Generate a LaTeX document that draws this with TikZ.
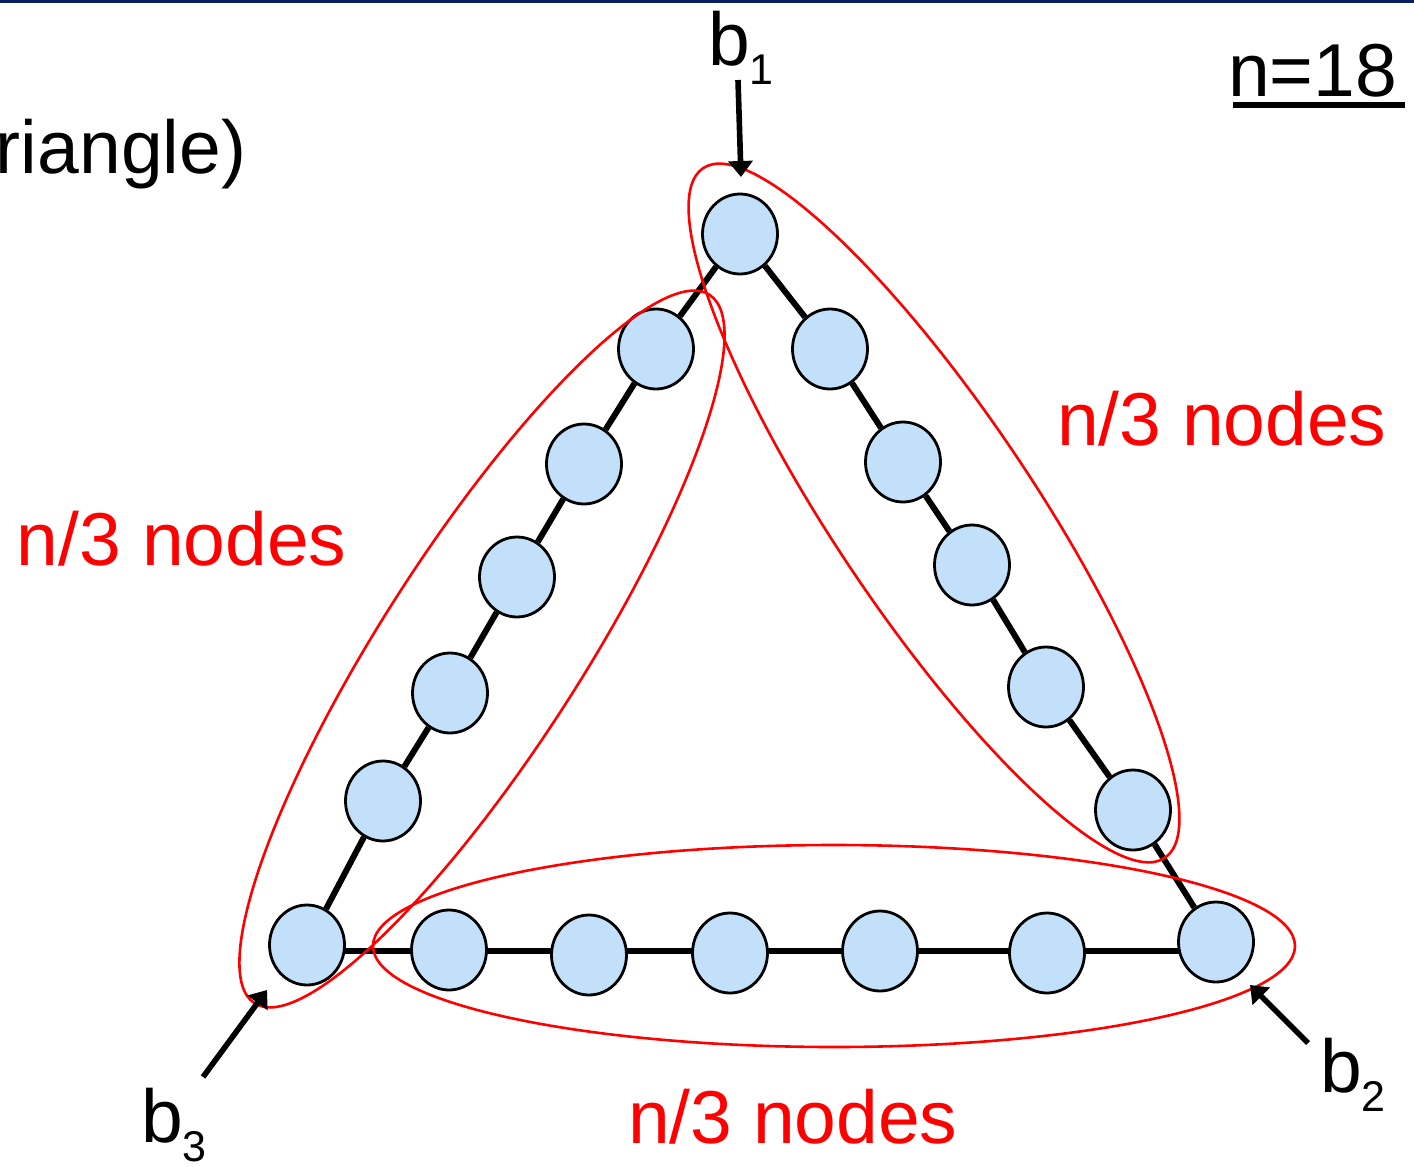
\documentclass[tikz,border=0pt]{standalone}
\usepackage{fontspec}
\setmainfont{Liberation Sans}
\usetikzlibrary{shapes.geometric,arrows.meta,calc,backgrounds}
\definecolor{nodefill}{RGB}{194,224,250}
\definecolor{navy}{RGB}{8,30,94}
\newcommand{\bsub}[1]{\raisebox{-9.5pt}{\fontsize{21.5}{22}\selectfont #1}}
\begin{document}
\begin{tikzpicture}[x=0.5pt,y=-0.5pt,
  vtx/.style={ellipse,draw=black,line width=1.4pt,fill=nodefill,minimum width=37.5pt,minimum height=40pt,inner sep=0pt},
  edge/.style={line width=3pt},
  ring/.style={draw=red,line width=1.3pt},
  ptr/.style={line width=2.8pt,-{Triangle[width=12pt,length=8pt]}},
  lbl/.style={font=\fontsize{37.5}{40}\selectfont,inner sep=0pt,outer sep=0pt,anchor=base west},
  redlbl/.style={lbl,text=red}]
\useasboundingbox (0,0) rectangle (1414,1167);
\fill[navy] (0,0) rectangle (1414,3);

% vertices
\node[vtx] (t)  at (740,234) {};
\node[vtx] (L1) at (656,349) {};
\node[vtx] (L2) at (584,464) {};
\node[vtx] (L3) at (517,577) {};
\node[vtx] (L4) at (450,693) {};
\node[vtx] (L5) at (383,801) {};
\node[vtx] (c3) at (307,945) {};
\node[vtx] (R1) at (830,349) {};
\node[vtx] (R2) at (903,462) {};
\node[vtx] (R3) at (972,565) {};
\node[vtx] (R4) at (1046,687) {};
\node[vtx] (R5) at (1133,810) {};
\node[vtx] (c2) at (1216,942) {};
\node[vtx] (B1) at (449,950) {};
\node[vtx] (B2) at (589,955) {};
\node[vtx] (B3) at (730,953) {};
\node[vtx] (B4) at (880,951) {};
\node[vtx] (B5) at (1047,953) {};

% edges (behind the vertices)
\begin{pgfonlayer}{background}
\draw[edge] (t) -- (L1) -- (L2) -- (L3) -- (L4) -- (L5) -- (c3);
\draw[edge] (t) -- (R1) -- (R2) -- (R3) -- (R4) -- (R5) -- (c2);
\draw[edge] (c3 |- B4) -- (c2 |- B4);
\end{pgfonlayer}

% red groupings
\coordinate (eL) at (482,649);
\coordinate (eR) at (934,513);
\coordinate (eB) at (834,946);
\draw[ring, rotate around={57.3:(eL)}] (eL) ellipse [x radius=421, y radius=100];
\draw[ring, rotate around={-56.2:(eR)}] (eR) ellipse [x radius=415, y radius=100];
\draw[ring] (eB) ellipse [x radius=461, y radius=101];

% labels
\node[lbl] (b1) at (708,65) {b\bsub{1}};
\node[lbl] (b2) at (1320,1092) {b\bsub{2}};
\node[lbl] (b3) at (141,1142) {b\bsub{3}};
\node[lbl] (tri) at (-4,173) {riangle)};
\node[lbl] (n18) at (1228,96) {n=18};
\draw[line width=3pt] ($(n18.base west)+(5,9)$) -- ($(n18.base east)+(8,9)$);
\node[redlbl] (gR) at (1057,445) {n/3 nodes};
\node[redlbl] (gL) at (17,565) {n/3 nodes};
\node[redlbl] (gB) at (628,1143) {n/3 nodes};

% pointers
\coordinate (p1s) at (738,80);
\coordinate (p1t) at (741,177);
\coordinate (p2s) at (1308,1043);
\coordinate (p2t) at (1250,985);
\coordinate (p3s) at (203,1077);
\coordinate (p3t) at (267,990);
\draw[ptr] (p1s) -- (p1t);
\draw[ptr] (p2s) -- (p2t);
\draw[ptr] (p3s) -- (p3t);
\end{tikzpicture}
\end{document}
